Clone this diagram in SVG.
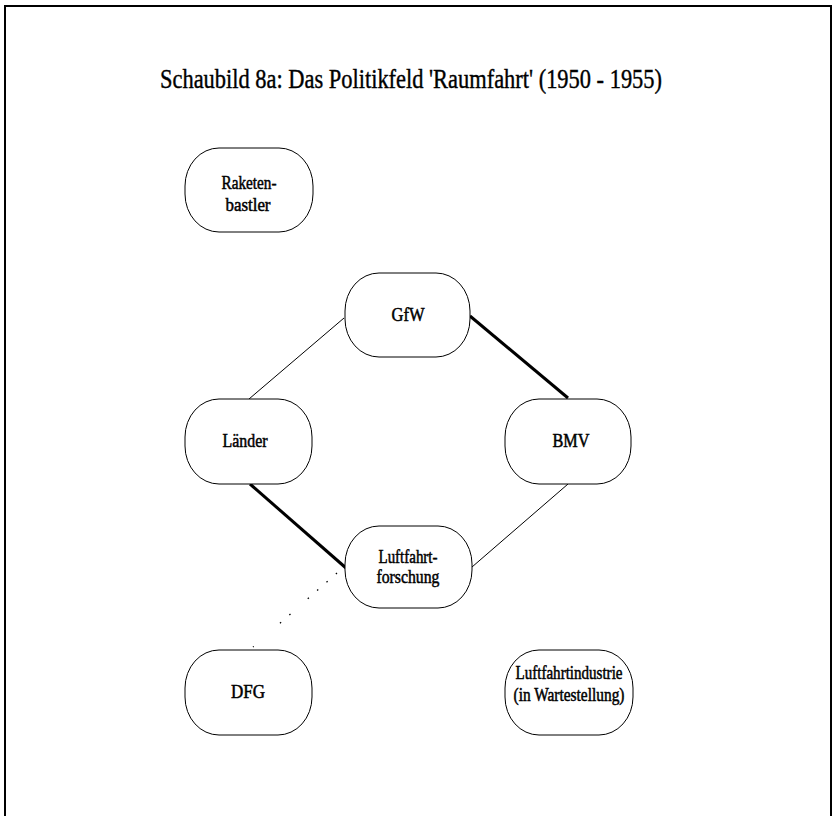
<svg xmlns="http://www.w3.org/2000/svg" width="833" height="816" viewBox="0 0 833 816">
<style>
.node rect{fill:#fff;stroke:#000;stroke-width:1}
.lbl{font-family:"Liberation Serif","Times New Roman",serif;font-size:18px;text-anchor:middle;fill:#000;stroke:#000;stroke-width:0.5}
.thin{stroke:#000;stroke-width:1;fill:none}
.thick{stroke:#000;stroke-width:3;fill:none}
.dot{stroke:#000;stroke-width:1.3;fill:none;stroke-dasharray:1.5 11 1.5 11 1.5 11 1.5 23 1.5 11 1.5 35 1.5 100}
</style>
<rect x="0" y="0" width="833" height="816" fill="#fff"/>
<path d="M5 816 V6 H831 V816" fill="none" stroke="#000" stroke-width="2"/>
<text x="411" y="88" style="font-family:'Liberation Serif','Times New Roman',serif;font-size:27px;text-anchor:middle;stroke:#000;stroke-width:0.4" textLength="502" lengthAdjust="spacingAndGlyphs">Schaubild 8a: Das Politikfeld 'Raumfahrt' (1950 - 1955)</text>
<g id="connectors">
<line class="thin" x1="344" y1="318" x2="249" y2="399"/>
<line class="thick" x1="470" y1="316" x2="568" y2="398"/>
<line class="thick" x1="250" y1="484" x2="346" y2="568"/>
<line class="thin" x1="568" y1="484" x2="472" y2="567"/>
<line class="dot" x1="337" y1="573" x2="253" y2="647"/>
</g>
<g id="raketenbastler" class="node"><rect x="185" y="148" width="128" height="84" rx="34" ry="38"/><text class="lbl" x="249" y="189" textLength="55" lengthAdjust="spacingAndGlyphs">Raketen-</text><text class="lbl" x="248" y="211" textLength="45" lengthAdjust="spacingAndGlyphs">bastler</text></g>
<g id="gfw" class="node"><rect x="345" y="273" width="125" height="84" rx="34" ry="38"/><text class="lbl" x="408" y="321" textLength="33" lengthAdjust="spacingAndGlyphs">GfW</text></g>
<g id="laender" class="node"><rect x="185" y="399" width="127" height="85" rx="34" ry="38"/><text class="lbl" x="245" y="447" textLength="45" lengthAdjust="spacingAndGlyphs">Länder</text></g>
<g id="bmv" class="node"><rect x="505" y="399" width="126" height="85" rx="34" ry="38"/><text class="lbl" x="571" y="447" textLength="37" lengthAdjust="spacingAndGlyphs">BMV</text></g>
<g id="luftfahrtforschung" class="node"><rect x="345" y="526" width="127" height="82" rx="34" ry="38"/><text class="lbl" x="408" y="563" textLength="59" lengthAdjust="spacingAndGlyphs">Luftfahrt-</text><text class="lbl" x="408" y="583" textLength="63" lengthAdjust="spacingAndGlyphs">forschung</text></g>
<g id="dfg" class="node"><rect x="185" y="650" width="127" height="85" rx="34" ry="38"/><text class="lbl" x="248" y="698" textLength="34" lengthAdjust="spacingAndGlyphs">DFG</text></g>
<g id="luftfahrtindustrie" class="node"><rect x="505" y="650" width="128" height="85" rx="34" ry="38"/><text class="lbl" x="569" y="679" textLength="107" lengthAdjust="spacingAndGlyphs">Luftfahrtindustrie</text><text class="lbl" x="569" y="701" textLength="111" lengthAdjust="spacingAndGlyphs">(in Wartestellung)</text></g>
</svg>
